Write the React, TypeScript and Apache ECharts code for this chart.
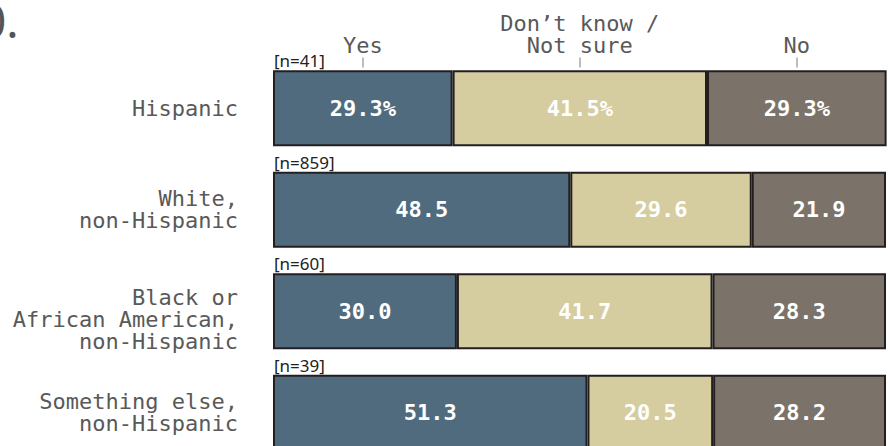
import React, { useEffect, useRef } from "react";
import * as echarts from "echarts";

const categories = [
  "Hispanic",
  "White,\nnon-Hispanic",
  "Black or\nAfrican American,\nnon-Hispanic",
  "Something else,\nnon-Hispanic",
];
const sampleSizes = [41, 859, 60, 39];
const yesValues = [29.3, 48.5, 30.0, 51.3];
const dontKnowValues = [41.5, 29.6, 41.7, 20.5];
const noValues = [29.3, 21.9, 28.3, 28.2];
const headerLabels = ["Yes", "Don\u2019t know /\nNot sure", "No"];

const MONO = "'DejaVu Sans Mono', monospace";

export default function App() {
  const ref = useRef<HTMLDivElement>(null);
  useEffect(() => {
    document.body.style.margin = "0";
    if (!ref.current) return;
    const chart = echarts.init(ref.current, null, { renderer: "svg" });
    // header positions: centres of the first row's segments
    const headerPos = [
      yesValues[0] / 2,
      yesValues[0] + dontKnowValues[0] / 2,
      yesValues[0] + dontKnowValues[0] + noValues[0] / 2,
    ];
    const valueLabel = (p: any) =>
      p.dataIndex === 0 ? p.value.toFixed(1) + "%" : p.value.toFixed(1);
    const segLabel = {
      show: true,
      position: "inside",
      color: "#ffffff",
      fontFamily: MONO,
      fontWeight: "bold",
      fontSize: 22,
      formatter: valueLabel,
    };
    const border = { borderColor: "#231f20", borderWidth: 2 };
    chart.setOption({
      animation: false,
      grid: { left: 273, right: 2, top: 57.5, bottom: 6.5, containLabel: false },
      xAxis: [
        { type: "value", min: 0, max: 100, show: false },
        {
          type: "value",
          min: 0,
          max: 100,
          position: "top",
          splitLine: { show: false },
          axisLine: { show: false },
          axisTick: {
            show: true,
            inside: true,
            length: 10,
            customValues: headerPos,
            lineStyle: { color: "#bdbdbd", width: 2 },
          },
          axisLabel: {
            show: true,
            customValues: headerPos,
            margin: 1,
            fontFamily: MONO,
            fontSize: 22,
            lineHeight: 22,
            color: "#595959",
            formatter: (v: number) => {
              const i = headerPos.findIndex((h) => Math.abs(h - v) < 0.01);
              return i >= 0 ? headerLabels[i] : "";
            },
          },
        },
      ],
      yAxis: {
        type: "category",
        inverse: true,
        data: categories,
        axisLine: { show: false },
        axisTick: { show: false },
        axisLabel: {
          margin: 35,
          fontFamily: MONO,
          fontSize: 22,
          lineHeight: 22,
          color: "#595959",
          formatter: (v: string) =>
            v.split("\n").length >= 3 ? "{gap|}\n" + v : v,
          rich: {
            gap: { fontSize: 2, lineHeight: 16 },
          },
        },
      },
      graphic: [
        {
          type: "text",
          left: -20,
          top: -3,
          style: {
            text: "0.",
            fontFamily: "'Noto Sans', sans-serif",
            fontSize: 46,
            fill: "#555555",
          },
        },
      ],
      series: [
        {
          name: "n",
          type: "bar",
          data: sampleSizes.map(() => 100),
          barWidth: 76,
          barGap: "-100%",
          silent: true,
          itemStyle: { color: "rgba(0,0,0,0)" },
          label: {
            show: true,
            position: [1, -18],
            align: "left",
            verticalAlign: "top",
            fontFamily: "'Noto Sans', sans-serif",
            fontSize: 17,
            color: "#222222",
            formatter: (p: any) => `[n=${sampleSizes[p.dataIndex]}]`,
          },
        },
        {
          name: "Yes",
          type: "bar",
          stack: "total",
          data: yesValues,
          barWidth: 76,
          barGap: "-100%",
          itemStyle: { color: "#516b7e", ...border },
          label: segLabel,
        },
        {
          name: "Don't know / Not sure",
          type: "bar",
          stack: "total",
          data: dontKnowValues,
          barWidth: 76,
          barGap: "-100%",
          itemStyle: { color: "#d5cda0", ...border },
          label: segLabel,
        },
        {
          name: "No",
          type: "bar",
          stack: "total",
          data: noValues,
          barWidth: 76,
          barGap: "-100%",
          itemStyle: { color: "#7b736a", ...border },
          label: segLabel,
        },
      ],
    });
    return () => chart.dispose();
  }, []);
  return (
    <div style={{ width: 888, height: 446, overflow: "hidden", position: "relative" }}>
      <div ref={ref} style={{ width: 888, height: 470 }} />
    </div>
  );
}
